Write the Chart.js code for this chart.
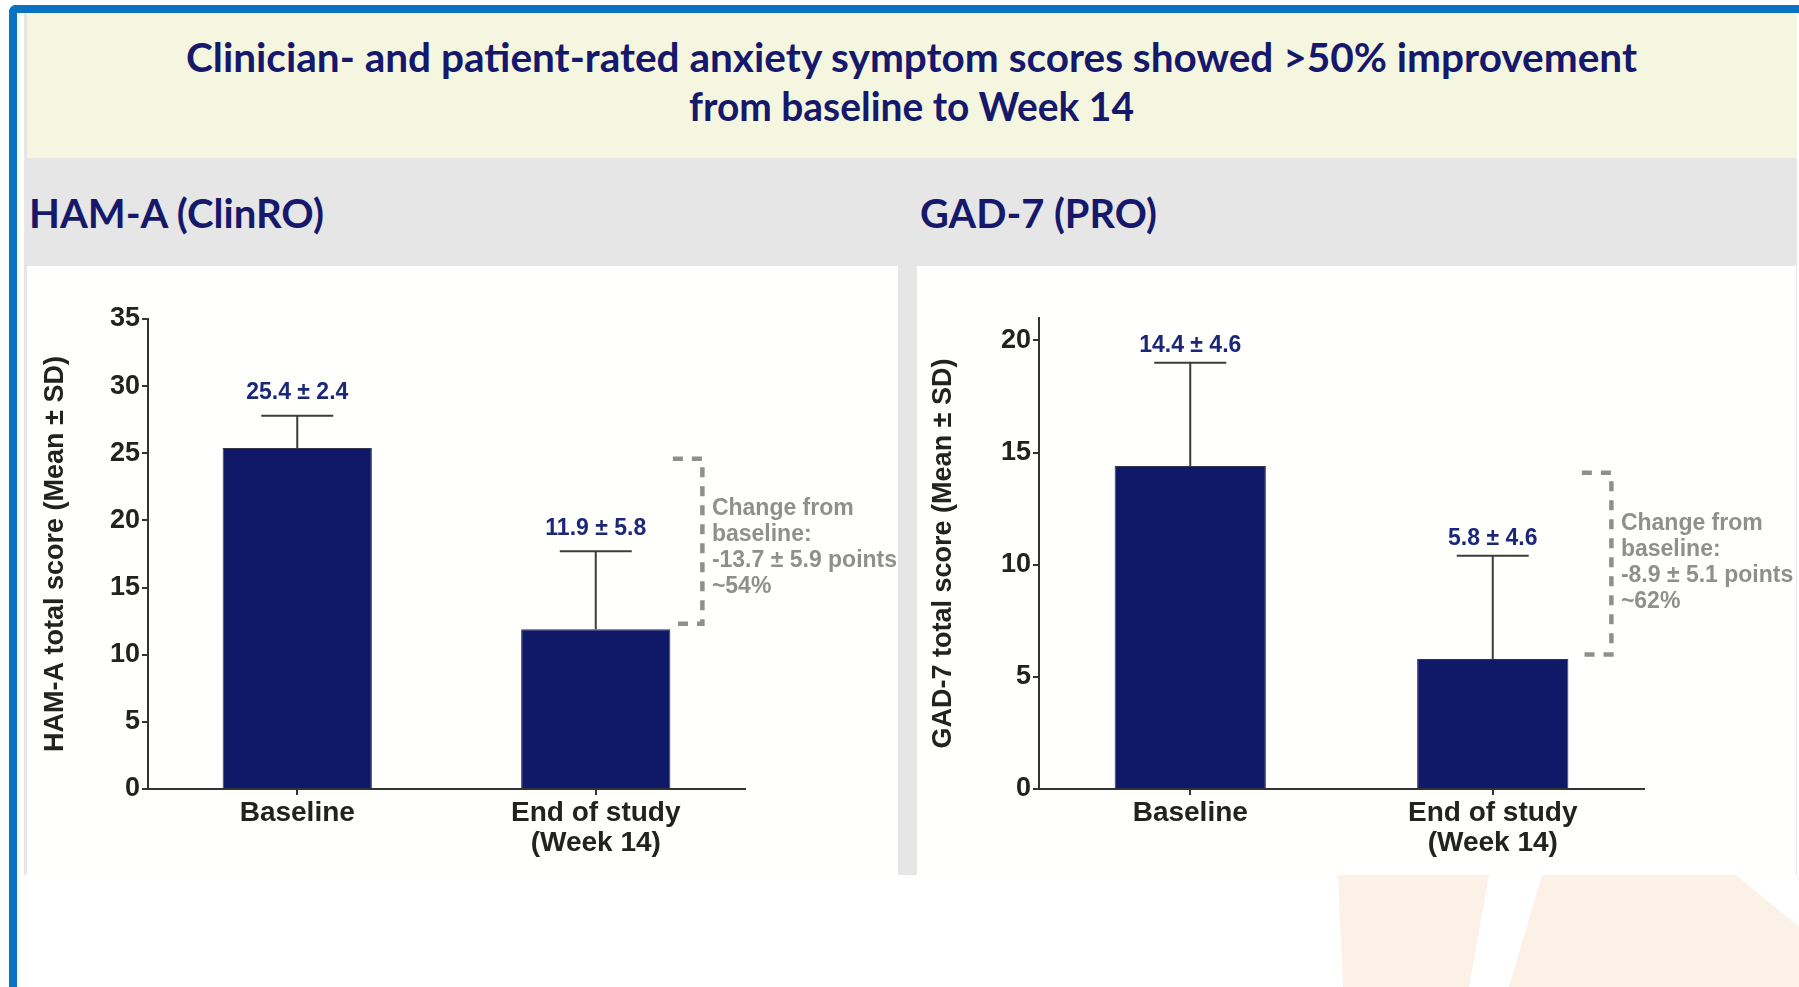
<!DOCTYPE html>
<html><head><meta charset="utf-8">
<script src="https://cdn.jsdelivr.net/npm/chart.js@4.4.1/dist/chart.umd.min.js"></script>
<style>
html,body{margin:0;padding:0;background:#fff;width:1799px;height:987px;overflow:hidden;position:relative}
.abs{position:absolute}
.hd{position:absolute;white-space:nowrap;font-family:Lato,'Open Sans',sans-serif;font-weight:700;color:#15186B;transform-origin:0 0;line-height:1}
canvas{position:absolute}
</style></head><body>
<div class="abs" style="left:24px;top:13px;width:1773px;height:862px;background:#E6E6E6"></div>
<div class="abs" style="left:27px;top:13px;width:1770px;height:145px;background:#F5F6DF"></div>
<div class="abs" style="left:27px;top:266px;width:871px;height:609px;background:#FFFFFD"></div>
<div class="abs" style="left:917px;top:266px;width:879px;height:609px;background:#FFFFFD"></div>
<svg class="abs" style="left:0;top:0" width="1799" height="987">
  <polygon points="1338,875 1489,875 1469,987 1343,987" fill="#FBF1E7"/>
  <polygon points="1542,875 1736,875 1799,927 1799,987 1509,987" fill="#FBF1E7"/>
</svg>
<div class="abs" style="left:9px;top:5px;width:1830px;height:1020px;border-top:8px solid #0A72C2;border-left:8px solid #0A72C2;border-top-left-radius:7px"></div>

<span class="hd" id="t1" data-w="1451" data-l="186" style="top:37px;font-size:40px">Clinician- and patient-rated anxiety symptom scores showed &gt;50% improvement</span>
<span class="hd" id="t2" data-w="445" data-l="689" style="top:86px;font-size:40px">from baseline to Week 14</span>
<span class="hd" id="s1" data-w="295" data-l="29" style="top:192px;font-size:41px">HAM-A (ClinRO)</span>
<span class="hd" id="s2" data-w="237" data-l="920" style="top:192px;font-size:41px">GAD-7 (PRO)</span>

<canvas id="c1" width="890" height="609" style="left:27px;top:266px"></canvas>
<canvas id="c2" width="882" height="609" style="left:917px;top:266px"></canvas>

<script>
// ---- data ----
const categoryLabels = ['Baseline', ['End of study', '(Week 14)']];
const hamaMean = [25.4, 11.9];
const hamaSD = [2.4, 5.8];
const hamaChange = [-13.7, 5.9];   // mean, SD of change
const hamaPct = 54;
const hamaBracket = [24.6, 12.3];
const hamaYMax = 35;

const gadMean = [14.4, 5.8];
const gadSD = [4.6, 4.6];
const gadChange = [-8.9, 5.1];
const gadPct = 62;
const gadBracket = [14.1, 6.0];
const gadYMax = 21;

const yStep = 5;

// ---- header text fitting ----
document.querySelectorAll('.hd').forEach(el => {
  const w = el.getBoundingClientRect().width;
  el.style.left = el.dataset.l + 'px';
  el.style.transform = 'scaleX(' + (parseFloat(el.dataset.w) / w) + ')';
});

Chart.defaults.font.family = "'Liberation Sans', Arial, sans-serif";

const errorBarPlugin = {
  id: 'errbars',
  afterDatasetsDraw(chart, args, opts) {
    const ctx = chart.ctx;
    const meta = chart.getDatasetMeta(0);
    const y = chart.scales.y;
    const ds = chart.data.datasets[0];
    ctx.save();
    meta.data.forEach((bar, i) => {
      const m = ds.data[i], sd = opts.sd[i];
      const yb = y.getPixelForValue(m), yt = y.getPixelForValue(m + sd);
      ctx.strokeStyle = '#3c3c3c';
      ctx.lineWidth = 2;
      ctx.beginPath();
      ctx.moveTo(bar.x, yb); ctx.lineTo(bar.x, yt);
      ctx.moveTo(bar.x - opts.capHalf, yt); ctx.lineTo(bar.x + opts.capHalf, yt);
      ctx.stroke();
      ctx.fillStyle = '#1B2779';
      ctx.font = "bold 23px 'Liberation Sans', Arial, sans-serif";
      ctx.textAlign = 'center';
      ctx.textBaseline = 'middle';
      ctx.fillText(m.toFixed(1) + ' \u00B1 ' + sd.toFixed(1), bar.x, yt - opts.labelGap);
    });
    // change bracket
    const last = meta.data[meta.data.length - 1];
    const xv = last.x + last.width / 2 + opts.bracketDx;
    const yTop = y.getPixelForValue(opts.bracket[0]);
    const yBot = y.getPixelForValue(opts.bracket[1]);
    ctx.setLineDash([10, 9]);
    ctx.lineWidth = 4.5;
    ctx.strokeStyle = '#8f8f8f';
    ctx.beginPath();
    ctx.moveTo(xv - 29.5, yTop); ctx.lineTo(xv, yTop); ctx.lineTo(xv, yBot); ctx.lineTo(xv - 29.5, yBot);
    ctx.stroke();
    ctx.setLineDash([]);
    const lines = ['Change from', 'baseline:',
      opts.change[0].toFixed(1) + ' \u00B1 ' + opts.change[1].toFixed(1) + ' points',
      '~' + opts.pct + '%'];
    ctx.fillStyle = '#8f8f8f';
    ctx.font = "bold 23px 'Liberation Sans', Arial, sans-serif";
    ctx.textAlign = 'left';
    ctx.textBaseline = 'middle';
    const lh = 26;
    const yc = (yTop + yBot) / 2 + opts.textDy;
    lines.forEach((t, k) => ctx.fillText(t, xv + 9.5, yc + (k - (lines.length - 1) / 2) * lh));
    ctx.restore();
  }
};

function makeChart(id, cfg) {
  const canvas = document.getElementById(id);
  const W = canvas.width, H = canvas.height;
  return new Chart(canvas, {
    type: 'bar',
    data: {
      labels: categoryLabels,
      datasets: [{
        data: cfg.mean,
        backgroundColor: '#101967',
        borderColor: '#33334a',
        borderWidth: 1,
        barPercentage: 0.5,
        categoryPercentage: 1
      }]
    },
    options: {
      responsive: false,
      animation: false,
      devicePixelRatio: 1,
      layout: { padding: { left: 0, top: cfg.area.top, right: W - cfg.area.right, bottom: 0 } },
      plugins: {
        legend: { display: false },
        tooltip: { enabled: false },
        errbars: { sd: cfg.sd, capHalf: 36, labelGap: cfg.labelGap, bracket: cfg.bracket,
                   bracketDx: cfg.bracketDx, change: cfg.change, pct: cfg.pct, textDy: cfg.textDy }
      },
      scales: {
        x: {
          offset: true,
          grid: { display: true, drawOnChartArea: false, offset: false, tickLength: 6, tickColor: '#333', lineWidth: 2 },
          border: { display: true, color: '#333', width: 2 },
          ticks: { color: '#222', font: { size: 28, weight: 'bold', lineHeight: 1.07 }, padding: 3, maxRotation: 0, autoSkip: false },
          afterFit(s) { s.height = H - cfg.area.bottom; }
        },
        y: {
          min: 0, max: cfg.max,
          grid: { drawOnChartArea: false, tickLength: 6, tickColor: '#333', lineWidth: 2 },
          border: { display: true, color: '#333', width: 2 },
          ticks: { stepSize: yStep, includeBounds: false, color: '#222', font: { size: 27, weight: 'bold' }, padding: 2 },
          title: { display: true, text: cfg.title, color: '#222', font: { size: 27, weight: 'bold' }, padding: { top: cfg.titlePad, bottom: 0 } },
          afterFit(s) { s.width = cfg.area.left; }
        }
      }
    },
    plugins: [errorBarPlugin]
  });
}

makeChart('c1', {
  mean: hamaMean, sd: hamaSD, change: hamaChange, pct: hamaPct, bracket: hamaBracket, max: hamaYMax,
  title: 'HAM-A total score (Mean \u00B1 SD)',
  area: { left: 121, right: 718, top: 53, bottom: 523 },
  titlePad: 12, labelGap: 23, bracketDx: 32, textDy: 6
});
makeChart('c2', {
  mean: gadMean, sd: gadSD, change: gadChange, pct: gadPct, bracket: gadBracket, max: gadYMax,
  title: 'GAD-7 total score (Mean \u00B1 SD)',
  area: { left: 122, right: 727, top: 52, bottom: 523 },
  titlePad: 10, labelGap: 17, bracketDx: 43, textDy: -1
});
</script>
</body></html>
